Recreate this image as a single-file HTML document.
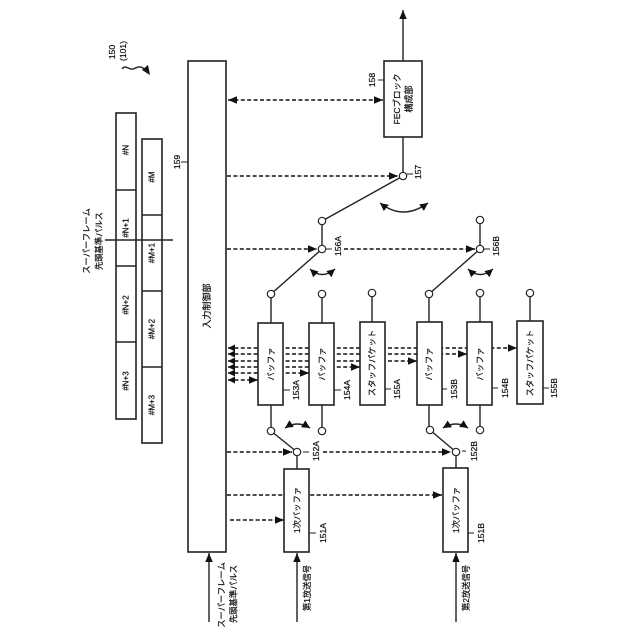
<!DOCTYPE html>
<html>
<head>
<meta charset="utf-8">
<style>
html,body{margin:0;padding:0;background:#fff;width:640px;height:640px;overflow:hidden}
svg{display:block}
text{font-family:"Liberation Sans","Noto Sans CJK JP",sans-serif;fill:#111;stroke:#111;stroke-width:.22;text-anchor:middle;dominant-baseline:central}
.box{fill:#fff;stroke:#222;stroke-width:1.6}
.ln{fill:none;stroke:#222;stroke-width:1.4}
.d{fill:none;stroke:#111;stroke-width:1.5;stroke-dasharray:4 2.4}
.n{fill:#fff;stroke:#222;stroke-width:1.2}
.num{font-size:8.6px}
.lab{font-size:8.3px}
</style>
</head>
<body>
<svg width="640" height="640" viewBox="0 0 640 640" xmlns="http://www.w3.org/2000/svg">
<defs>
<marker id="a" markerUnits="userSpaceOnUse" markerWidth="10" markerHeight="8" refX="9" refY="4" orient="auto-start-reverse"><path d="M0,0.3L9,4L0,7.7z" fill="#111"/></marker>
<marker id="c" markerUnits="userSpaceOnUse" markerWidth="8" markerHeight="8" refX="7" refY="4" orient="auto-start-reverse"><path d="M0,0.5L7,4L0,7.5z" fill="#111"/></marker>
<marker id="s" markerUnits="userSpaceOnUse" markerWidth="9" markerHeight="9" refX="8" refY="4.5" orient="auto-start-reverse"><path d="M0,0.5L8,4.5L0,8.5z" fill="#111"/></marker>
</defs>

<!-- frame tables -->
<rect class="box" x="116" y="113" width="20" height="306"/>
<path class="ln" d="M116 190H136M116 266H136M116 342H136"/>
<rect class="box" x="142" y="139" width="20" height="304"/>
<path class="ln" d="M142 215H162M142 291H162M142 367H162"/>
<path class="ln" d="M105 240H173"/>
<g style="font-size:8px">
<text transform="translate(126,150) rotate(-90)">#N</text>
<text transform="translate(126,228) rotate(-90)">#N+1</text>
<text transform="translate(126,305) rotate(-90)">#N+2</text>
<text transform="translate(126,381) rotate(-90)">#N+3</text>
<text transform="translate(152,177) rotate(-90)">#M</text>
<text transform="translate(152,253) rotate(-90)">#M+1</text>
<text transform="translate(152,329) rotate(-90)">#M+2</text>
<text transform="translate(152,405) rotate(-90)">#M+3</text>
</g>
<g class="lab">
<text transform="translate(86.5,241) rotate(-90)">スーパーフレーム</text>
<text transform="translate(99,241) rotate(-90)">先頭基準パルス</text>
</g>

<!-- 150 label -->
<g class="num">
<text transform="translate(112,52) rotate(-90)">150</text>
<text transform="translate(123,51) rotate(-90)">(101)</text>
</g>
<path class="ln" d="M122 69C126 64 128 70 133 69C138 67 140 66 143 68C145 70 146 71 148 73"/>
<path d="M150 75L142 70L148 65z" fill="#111"/>

<!-- dashed control lines -->
<path class="d" d="M228 100H383" marker-start="url(#a)" marker-end="url(#a)"/>
<path class="d" d="M227 176H398" marker-end="url(#a)"/>
<path class="d" d="M227 249H317" marker-end="url(#a)"/>
<path class="d" d="M344 249H475" marker-end="url(#a)"/>
<path class="d" d="M227 452H292" marker-end="url(#a)"/>
<path class="d" d="M323 452H451" marker-end="url(#a)"/>
<path class="d" d="M227 495H442" marker-end="url(#a)"/>
<path class="d" d="M230 520H284" marker-end="url(#a)"/>
<path class="d" d="M228 348H517" marker-start="url(#c)" marker-end="url(#a)"/>
<path class="d" d="M228 354H467" marker-start="url(#c)" marker-end="url(#a)"/>
<path class="d" d="M228 361H417" marker-start="url(#c)" marker-end="url(#a)"/>
<path class="d" d="M228 367H360" marker-start="url(#c)" marker-end="url(#a)"/>
<path class="d" d="M228 373H309" marker-start="url(#c)" marker-end="url(#a)"/>
<path class="d" d="M228 380H258" marker-start="url(#c)" marker-end="url(#a)"/>

<!-- connectors -->
<path class="ln" d="M403 61V10" marker-end="url(#a)"/>
<path class="ln" d="M403 137V176M322 221V249M480 220V249"/>
<path class="ln" d="M403 176L322 221M322 249L271 294M480 249L429 294"/>
<path class="ln" d="M271 294V323M322 294V323M372 293V323M429 294V323M480 293V323M530 293V323"/>
<path class="ln" d="M271 405V431M322 405V431M429 405V430M480 405V430"/>
<path class="ln" d="M271 431L297 452M430 430L456 452M297 452V469M456 452V468"/>
<path class="ln" d="M209 622V553" marker-end="url(#a)"/>
<path class="ln" d="M297 622V553" marker-end="url(#a)"/>
<path class="ln" d="M456 622V553" marker-end="url(#a)"/>

<!-- ticks -->
<path class="ln" style="stroke-width:1" d="M283 390H290M334 390H341M385 389H391M442 389H447M492 388H498M543 388H549M303 452H309M462 451H466M309 533H316M468 533H474M407 174H413M326 249H332M484 249H490M378 80H384M181 162H188"/>

<!-- boxes -->
<rect class="box" x="188" y="61" width="38" height="491"/>
<rect class="box" x="384" y="61" width="38" height="76"/>
<rect class="box" x="258" y="323" width="25" height="82"/>
<rect class="box" x="309" y="323" width="25" height="82"/>
<rect class="box" x="360" y="322" width="25" height="83"/>
<rect class="box" x="417" y="322" width="25" height="83"/>
<rect class="box" x="467" y="322" width="25" height="83"/>
<rect class="box" x="517" y="321" width="26" height="83"/>
<rect class="box" x="284" y="469" width="25" height="83"/>
<rect class="box" x="443" y="468" width="25" height="84"/>

<!-- nodes -->
<g class="n">
<circle cx="403" cy="176" r="3.7"/><circle cx="322" cy="221" r="3.7"/><circle cx="322" cy="249" r="3.7"/>
<circle cx="480" cy="220" r="3.7"/><circle cx="480" cy="249" r="3.7"/>
<circle cx="271" cy="294" r="3.7"/><circle cx="322" cy="294" r="3.7"/><circle cx="372" cy="293" r="3.7"/>
<circle cx="429" cy="294" r="3.7"/><circle cx="480" cy="293" r="3.7"/><circle cx="530" cy="293" r="3.7"/>
<circle cx="271" cy="431" r="3.7"/><circle cx="322" cy="431" r="3.7"/>
<circle cx="430" cy="430" r="3.7"/><circle cx="480" cy="430" r="3.7"/>
<circle cx="297" cy="452" r="3.7"/><circle cx="456" cy="452" r="3.7"/>
</g>

<!-- swing arrows -->
<path class="ln" d="M380 203Q403 221 428 203" marker-start="url(#s)" marker-end="url(#s)"/>
<path class="ln" d="M310 269Q322 280 335 269" marker-start="url(#s)" marker-end="url(#s)"/>
<path class="ln" d="M468 269Q480 280 493 269" marker-start="url(#s)" marker-end="url(#s)"/>
<path class="ln" d="M285 428Q297 420 310 428" marker-start="url(#s)" marker-end="url(#s)"/>
<path class="ln" d="M443 428Q456 420 468 428" marker-start="url(#s)" marker-end="url(#s)"/>

<!-- box labels -->
<text transform="translate(207,306) rotate(-90)" style="font-size:9px">入力制御部</text>
<text transform="translate(397,99) rotate(-90)" style="font-size:8.5px">FECブロック</text>
<text transform="translate(409,99) rotate(-90)" style="font-size:9px">構成部</text>
<g class="lab">
<text transform="translate(271,364) rotate(-90)">バッファ</text>
<text transform="translate(322,364) rotate(-90)">バッファ</text>
<text transform="translate(372,363) rotate(-90)">スタッフパケット</text>
<text transform="translate(429,364) rotate(-90)">バッファ</text>
<text transform="translate(480,364) rotate(-90)">バッファ</text>
<text transform="translate(530,363) rotate(-90)">スタッフパケット</text>
<text transform="translate(297,510) rotate(-90)">1次バッファ</text>
<text transform="translate(456,510) rotate(-90)">1次バッファ</text>
<text transform="translate(221.5,595) rotate(-90)">スーパーフレーム</text>
<text transform="translate(233.5,594) rotate(-90)">先頭基準パルス</text>
<text transform="translate(307,588) rotate(-90)">第1放送信号</text>
<text transform="translate(466,588) rotate(-90)">第2放送信号</text>
</g>

<!-- numbers -->
<g class="num">
<text transform="translate(296,390) rotate(-90)">153A</text>
<text transform="translate(347,390) rotate(-90)">154A</text>
<text transform="translate(397,389) rotate(-90)">155A</text>
<text transform="translate(454,389) rotate(-90)">153B</text>
<text transform="translate(505,388) rotate(-90)">154B</text>
<text transform="translate(554,388) rotate(-90)">155B</text>
<text transform="translate(316,451) rotate(-90)">152A</text>
<text transform="translate(474,451) rotate(-90)">152B</text>
<text transform="translate(323,533) rotate(-90)">151A</text>
<text transform="translate(481,533) rotate(-90)">151B</text>
<text transform="translate(418,172) rotate(-90)">157</text>
<text transform="translate(338,246) rotate(-90)">156A</text>
<text transform="translate(496,246) rotate(-90)">156B</text>
<text transform="translate(372,80) rotate(-90)">158</text>
<text transform="translate(177,162) rotate(-90)">159</text>
</g>
</svg>
</body>
</html>
